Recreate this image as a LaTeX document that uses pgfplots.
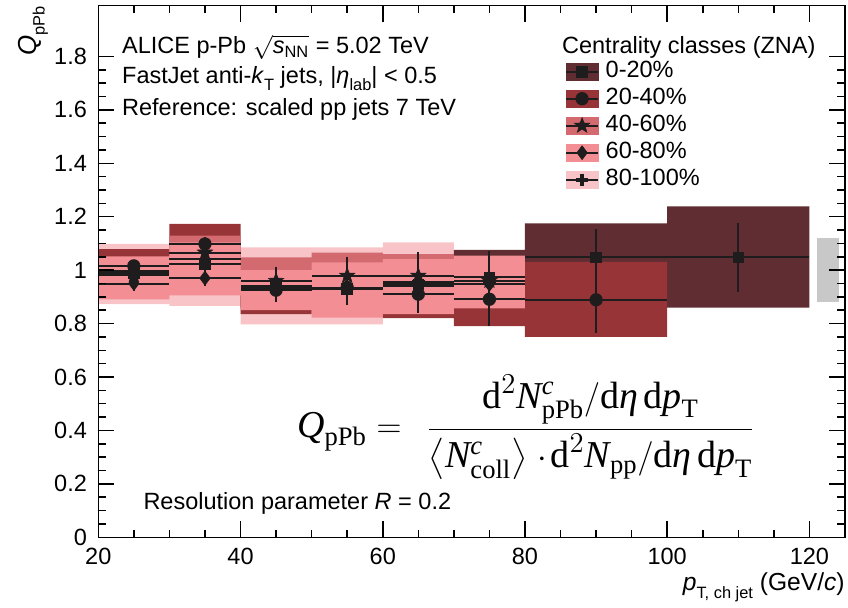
\documentclass[border=0pt]{standalone}
\usepackage{amsmath}
\usepackage{fontspec}
\setmainfont{Liberation Sans}
\newfontfamily\tms{Liberation Serif}
\usepackage{pgfplots}
\pgfplotsset{compat=1.18}
\usepgfplotslibrary{fillbetween}
\usepackage{pgfplotstable}

\definecolor{cA}{RGB}{96,45,50}
\definecolor{cB}{RGB}{150,52,56}
\definecolor{cC}{RGB}{210,106,112}
\definecolor{cD}{RGB}{242,142,148}
\definecolor{cE}{RGB}{248,196,199}
\definecolor{cG}{RGB}{200,200,200}
\definecolor{mk}{RGB}{30,28,28}

\newcommand{\sub}[1]{\raisebox{-0.55ex}{\fontsize{8.2}{8.2}\selectfont #1}}
\newcommand{\rmT}[1]{\text{\tms #1}}
\newcommand{\itT}[1]{\text{\tms\itshape #1}}

% filled five-pointed star mark
\pgfdeclareplotmark{fstar}{%
  \pgfpathmoveto{\pgfpointpolar{90}{\pgfplotmarksize}}%
  \pgfpathlineto{\pgfpointpolar{126}{0.42\pgfplotmarksize}}%
  \pgfpathlineto{\pgfpointpolar{162}{\pgfplotmarksize}}%
  \pgfpathlineto{\pgfpointpolar{198}{0.42\pgfplotmarksize}}%
  \pgfpathlineto{\pgfpointpolar{234}{\pgfplotmarksize}}%
  \pgfpathlineto{\pgfpointpolar{270}{0.42\pgfplotmarksize}}%
  \pgfpathlineto{\pgfpointpolar{306}{\pgfplotmarksize}}%
  \pgfpathlineto{\pgfpointpolar{342}{0.42\pgfplotmarksize}}%
  \pgfpathlineto{\pgfpointpolar{18}{\pgfplotmarksize}}%
  \pgfpathlineto{\pgfpointpolar{54}{0.42\pgfplotmarksize}}%
  \pgfpathclose
  \pgfusepathqfillstroke}

% systematic boxes: bin lower edge, box low, box high (last row repeats the last bin)
\pgfplotstableread{
x lo hi
20 0.930 1.050
30 0.960 1.080
40 0.860 1.010
50 0.840 1.020
60 0.860 1.040
70 0.875 1.076
80 0.925 1.175
100 0.860 1.239
120 0.860 1.239
}\boxA
\pgfplotstableread{
x lo hi
20 0.950 1.079
30 1.023 1.173
40 0.835 1.020
50 0.850 1.020
60 0.820 1.000
70 0.790 1.000
80 0.750 1.031
100 0.750 1.031
}\boxB
\pgfplotstableread{
x lo hi
20 0.920 1.040
30 1.003 1.129
40 0.900 1.048
50 0.900 1.066
60 0.900 1.060
70 0.900 1.040
80 0.900 1.040
}\boxC
\pgfplotstableread{
x lo hi
20 0.891 1.052
30 0.906 1.104
40 0.850 1.000
50 0.822 1.029
60 0.835 1.041
70 0.857 1.054
80 0.857 1.054
}\boxD
\pgfplotstableread{
x lo hi
20 0.873 1.098
30 0.866 1.100
40 0.797 1.085
50 0.797 1.085
60 0.850 1.104
70 0.880 1.040
80 0.880 1.040
}\boxE

% points: x y ex ey(stat)
\pgfplotstableread{
x y ex ey
25 0.990 5 0.020
35 1.022 5 0.030
45 0.936 5 0.045
55 0.929 5 0.055
65 0.947 5 0.075
75 0.973 5 0.100
90 1.048 10 0.105
110 1.048 10 0.130
}\ptA
\pgfplotstableread{
x y ex ey
25 1.016 5 0.020
35 1.098 5 0.025
45 0.925 5 0.045
55 0.935 5 0.060
65 0.910 5 0.070
75 0.891 5 0.100
90 0.889 10 0.126
}\ptB
\pgfplotstableread{
x y ex ey
25 0.980 5 0.020
35 1.066 5 0.030
45 0.960 5 0.050
55 0.979 5 0.070
65 0.979 5 0.090
75 0.960 5 0.110
}\ptC
\pgfplotstableread{
x y ex ey
25 0.950 5 0.028
35 0.970 5 0.030
45 0.930 5 0.045
55 0.935 5 0.060
65 0.940 5 0.080
75 0.947 5 0.100
}\ptD
\pgfplotstableread{
x y ex ey
25 0.995 5 0.020
35 1.040 5 0.030
45 0.940 5 0.045
55 0.930 5 0.060
65 0.955 5 0.080
75 0.960 5 0.100
}\ptE

\pgfplotsset{
  boxlegend/.style={legend image code/.code={
    \fill[#1] (0pt,-1.2pt) rectangle (16pt,7.15pt);
    \draw[line width=1pt, mk] (0pt,3pt) -- (16pt,3pt);
    \draw[mark repeat=2, mark phase=2, ##1] plot coordinates {(0pt,3pt) (8pt,3pt) (16pt,3pt)};
  }},
  pts/.style={only marks, color=mk, mark options={fill=mk, draw=mk},
    error bars/y dir=both, error bars/y explicit,
    error bars/x dir=both, error bars/x explicit,
    error bars/error mark=none,
    error bars/error bar style={line width=1pt, mk}},
}
\tikzset{txt/.style={anchor=base west, inner sep=0pt, font=\fontsize{11.75}{14}\selectfont}}

\begin{document}
\begin{tikzpicture}
\begin{axis}[
  scale only axis, width=373.35pt, height=265.8pt,
  xmin=20, xmax=125, ymin=0, ymax=1.99,
  axis on top,
  axis line style={line width=0.75pt},
  xtick={20,40,60,80,100,120}, minor x tick num=3,
  ytick={0,0.2,0.4,0.6,0.8,1,1.2,1.4,1.6,1.8}, minor y tick num=3,
  tick align=inside, tick pos=both,
  major tick length=8pt, minor tick length=3.75pt,
  every tick/.style={black, line width=0.75pt},
  /pgf/number format/assume math mode=true,
  tick label style={font=\fontsize{11.75}{12}\selectfont},
  yticklabel style={inner sep=0pt, anchor=east, xshift=-5.5pt, /pgf/number format/fixed},
  xticklabel style={inner sep=0pt, anchor=north, yshift=-5.3pt},
  xlabel={\itshape p\sub{\upshape T, ch jet} \upshape(GeV/\textit{c})},
  xlabel style={at={(rel axis cs:1,-0.101)}, anchor=base east, inner sep=0pt, font=\fontsize{12.3}{13}\selectfont},
  ylabel={\itshape Q\sub{\upshape pPb}},
  ylabel style={at={(rel axis cs:-0.0821,1)}, anchor=base east, inner sep=0pt, font=\fontsize{13}{14}\selectfont},
  legend style={at={(axis cs:85.64,1.784)}, anchor=north west, draw=none, fill=none,
    inner sep=0pt, outer sep=0pt, row sep=0pt,
    font=\fontsize{11.75}{13}\selectfont,
    nodes={inner xsep=3.3pt, inner ysep=0pt, text height=8.5pt, text depth=5pt, anchor=base west}},
  legend cell align=left,
]
% boxes, back to front
\addplot[name path=Ehi, draw=none, const plot, forget plot] table[x=x,y=hi]{\boxE};
\addplot[name path=Elo, draw=none, const plot, forget plot] table[x=x,y=lo]{\boxE};
\addplot[fill=cE, draw=none, forget plot] fill between[of=Ehi and Elo];
\addplot[name path=Ahi, draw=none, const plot, forget plot] table[x=x,y=hi]{\boxA};
\addplot[name path=Alo, draw=none, const plot, forget plot] table[x=x,y=lo]{\boxA};
\addplot[fill=cA, draw=none, forget plot] fill between[of=Ahi and Alo];
\addplot[name path=Bhi, draw=none, const plot, forget plot] table[x=x,y=hi]{\boxB};
\addplot[name path=Blo, draw=none, const plot, forget plot] table[x=x,y=lo]{\boxB};
\addplot[fill=cB, draw=none, forget plot] fill between[of=Bhi and Blo];
\addplot[name path=Chi, draw=none, const plot, forget plot] table[x=x,y=hi]{\boxC};
\addplot[name path=Clo, draw=none, const plot, forget plot] table[x=x,y=lo]{\boxC};
\addplot[fill=cC, draw=none, forget plot] fill between[of=Chi and Clo];
\addplot[name path=Dhi, draw=none, const plot, forget plot] table[x=x,y=hi]{\boxD};
\addplot[name path=Dlo, draw=none, const plot, forget plot] table[x=x,y=lo]{\boxD};
\addplot[fill=cD, draw=none, forget plot] fill between[of=Dhi and Dlo];
% normalisation uncertainty
\addplot[fill=cG, draw=none, forget plot] coordinates {(121,0.879) (124.1,0.879) (124.1,1.119) (121,1.119)} -- cycle;

% data points
\addplot[pts, mark=square*, mark size=2.7pt, boxlegend=cA] table[x=x,y=y,x error=ex,y error=ey]{\ptA};
\addlegendentry{0-20\%}
\addplot[pts, mark=*, mark size=3.1pt, boxlegend=cB] table[x=x,y=y,x error=ex,y error=ey]{\ptB};
\addlegendentry{20-40\%}
\addplot[pts, mark=fstar, mark size=4pt, mark options={line width=0.3pt}, boxlegend=cC] table[x=x,y=y,x error=ex,y error=ey]{\ptC};
\addlegendentry{40-60\%}
\addplot[pts, mark=diamond*, mark size=3.4pt, boxlegend=cD] table[x=x,y=y,x error=ex,y error=ey]{\ptD};
\addlegendentry{60-80\%}
\addplot[pts, mark=+, mark size=3.1pt, mark options={line width=1.8pt}, boxlegend=cE] table[x=x,y=y,x error=ex,y error=ey]{\ptE};
\addlegendentry{80-100\%}

\node[txt] at (axis cs:23.3,1.811) {ALICE p-Pb $\sqrt{\text{\itshape s}_{\text{NN}}}$ = 5.02 TeV};
\node[txt] at (axis cs:23.3,1.698) {FastJet anti-\textit{k}\sub{T} jets, |\textit{η}\sub{lab}| < 0.5};
\node[txt] at (axis cs:23.3,1.579) {Reference: scaled pp jets 7 TeV};
\node[txt] at (axis cs:85.17,1.811) {Centrality classes (ZNA)};
\node[txt] at (axis cs:26.3,0.1025) {Resolution parameter \textit{R} = 0.2};
\node[anchor=base west, inner sep=0pt, font=\fontsize{19}{22}\selectfont] at (axis cs:47.9,0.372) {%
  $\itT{Q}_{\rmT{pPb}} = \mkern8mu\dfrac{\rmT{d}^{2}\itT{N}^{\itT{c}}_{\rmT{pPb}}/\rmT{d}\itT{η}\,\rmT{d}\itT{p}_{\rmT{T}}}{\left\langle \itT{N}^{\itT{c}}_{\rmT{coll}}\right\rangle\mkern2mu{\cdot}\mkern2mu\rmT{d}^{2}\itT{N}_{\rmT{pp}}/\rmT{d}\itT{η}\,\rmT{d}\itT{p}_{\rmT{T}}}$};
\end{axis}
\pgfresetboundingbox
\path[use as bounding box] ([xshift=-49.15pt,yshift=-35.35pt]current axis.south west) rectangle ([xshift=1.5pt,yshift=2.85pt]current axis.north east);
\end{tikzpicture}
\end{document}
